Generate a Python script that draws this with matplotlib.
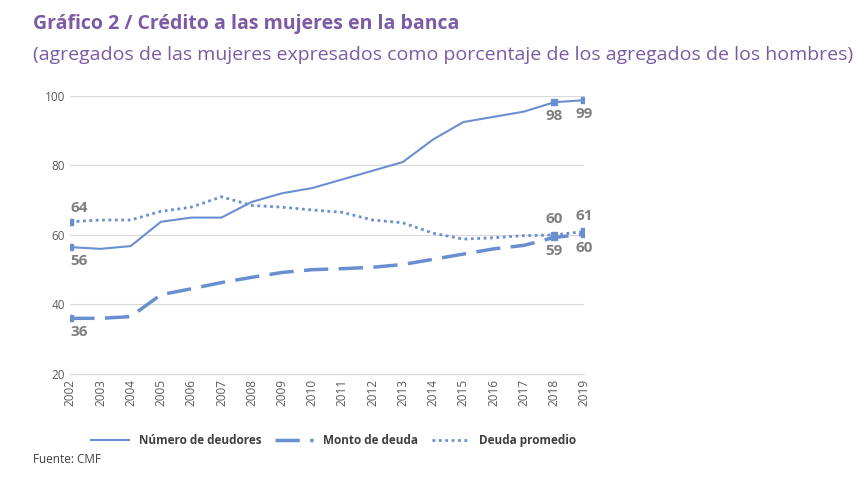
import matplotlib
matplotlib.use("Agg")
import matplotlib.pyplot as plt

years = list(range(2002, 2020))
deudores = [56.5, 56.0, 56.8, 63.8, 65.0, 65.0, 69.5, 72.0, 73.5, 76.0, 78.5, 81.0, 87.5, 92.5, 94.0, 95.5, 98.2, 98.8]
monto = [36.0, 36.0, 36.5, 42.8, 44.5, 46.3, 47.8, 49.2, 50.0, 50.3, 50.7, 51.5, 53.0, 54.5, 56.0, 57.0, 59.3, 60.2]
promedio = [63.8, 64.3, 64.3, 66.8, 68.0, 71.0, 68.5, 68.0, 67.2, 66.5, 64.3, 63.5, 60.5, 58.8, 59.2, 59.8, 60.0, 61.0]

plt.rcParams['font.family'] = ['Open Sans', 'DejaVu Sans']
BLUE = "#6a8fd0"
GREY = "#7f7f7f"

fig = plt.figure(figsize=(8.67, 4.8), dpi=100)
ax = fig.add_axes([0.081, 0.221, 0.593, 0.579])

ax.plot(years, deudores, color=BLUE, lw=1.5, label="Número de deudores")
ax.plot(years, monto, color=BLUE, lw=2.5, ls=(0, (7, 3)), label="Monto de deuda")
ax.plot(years, promedio, color=BLUE, lw=2, ls=(0, (1, 1.3)), label="Deuda promedio")

for s in (deudores, monto, promedio):
    idx = [0, 16, 17]
    ax.plot([years[i] for i in idx], [s[i] for i in idx], "s", color=BLUE, ms=5, ls="none")

lab = dict(color=GREY, fontsize=11, fontweight="bold")
ax.text(2002, promedio[0] + 2, "64", ha="left", va="bottom", **lab)
ax.text(2002, deudores[0] - 2, "56", ha="left", va="top", **lab)
ax.text(2002, monto[0] - 2, "36", ha="left", va="top", **lab)
ax.text(2018, deudores[16] - 2, "98", ha="center", va="top", **lab)
ax.text(2019, deudores[17] - 2, "99", ha="center", va="top", **lab)
ax.text(2018, promedio[16] + 2.5, "60", ha="center", va="bottom", **lab)
ax.text(2019, promedio[17] + 2.5, "61", ha="center", va="bottom", **lab)
ax.text(2018, monto[16] - 2, "59", ha="center", va="top", **lab)
ax.text(2019, monto[17] - 2, "60", ha="center", va="top", **lab)

ax.set_ylim(20, 100)
ax.set_yticks([20, 40, 60, 80, 100])
ax.set_xlim(2002, 2019)
ax.set_xticks(years)
ax.set_xticklabels([str(y) for y in years], rotation=90)
ax.tick_params(axis="both", length=0, labelsize=8.5, colors="#595959")
ax.grid(axis="y", color="#d9d9d9", lw=0.8)
ax.set_axisbelow(True)
for sp in ("top", "right", "left"):
    ax.spines[sp].set_visible(False)
ax.spines["bottom"].set_color("#d9d9d9")

leg = fig.legend(loc="center", bbox_to_anchor=(0.385, 0.083), ncol=3, frameon=False,
                 fontsize=8.5, handlelength=3.2, columnspacing=1.2)
for t in leg.get_texts():
    t.set_color("#404040"); t.set_fontweight("bold")

fig.text(0.038, 0.94, "Gráfico 2 / Crédito a las mujeres en la banca", color="#7b5aa6",
         fontsize=14, fontweight="bold")
fig.text(0.038, 0.875, "(agregados de las mujeres expresados como porcentaje de los agregados de los hombres)",
         color="#7b5aa6", fontsize=14)
fig.text(0.038, 0.035, "Fuente: CMF", color="#404040", fontsize=8.5)

fig.savefig("out.png", dpi=100)
